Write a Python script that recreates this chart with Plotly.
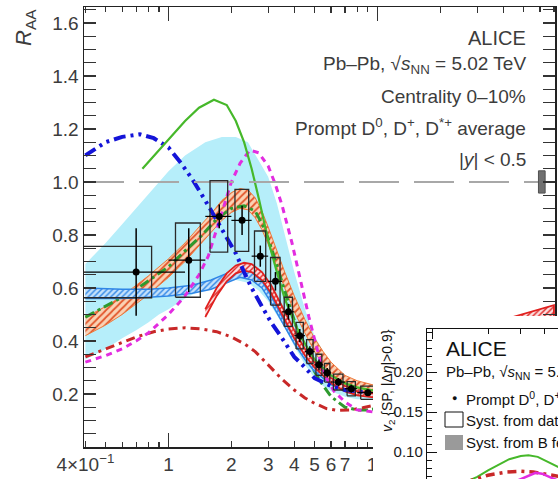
import numpy as np
import plotly.graph_objects as go

W, H = 558, 479

# ---------------- main panel: measured R_AA (0-10%) ----------------
pt = [0.7, 1.25, 1.75, 2.25, 2.75, 3.25, 3.75, 4.25, 4.75, 5.25, 5.75, 6.5, 7.5, 9.0, 11.0, 14.0, 20.0, 30.0, 43.0]
raa = [0.66, 0.705, 0.87, 0.855, 0.72, 0.625, 0.51, 0.42, 0.36, 0.31, 0.28, 0.245, 0.22, 0.205, 0.19, 0.2, 0.23, 0.28, 0.35]
raa_stat = [0.165, 0.12, 0.045, 0.055, 0.04, 0.035, 0.03, 0.025, 0.02, 0.02, 0.018, 0.015, 0.015, 0.012, 0.015, 0.02, 0.025, 0.04, 0.06]
raa_syst = [0.097, 0.14, 0.135, 0.117, 0.095, 0.09, 0.055, 0.05, 0.045, 0.04, 0.035, 0.03, 0.027, 0.025, 0.023, 0.024, 0.028, 0.035, 0.045]
bin_dlo = [0.5, 0.25, 0.25, 0.25, 0.25, 0.25, 0.25, 0.25, 0.25, 0.25, 0.25, 0.5, 0.5, 1.0, 1.0, 2.0, 4.0, 6.0, 7.0]
bin_dhi = [0.5, 0.25, 0.25, 0.25, 0.25, 0.25, 0.25, 0.25, 0.25, 0.25, 0.25, 0.5, 0.5, 1.0, 1.0, 2.0, 4.0, 6.0, 7.0]
box_dlo = [0.53, 0.17, 0.17, 0.17, 0.17, 0.17, 0.17, 0.17, 0.17, 0.17, 0.17, 0.34, 0.34, 0.68, 0.68, 1.36, 2.7, 4.0, 4.7]
box_dhi = [0.13, 0.17, 0.17, 0.17, 0.17, 0.17, 0.17, 0.17, 0.17, 0.17, 0.17, 0.34, 0.34, 0.68, 0.68, 1.36, 2.7, 4.0, 4.7]
norm_unc = 0.042
norm_pt = [59.0, 63.5]

# ---------------- model curves / bands (main panel) ----------------
cyan_pt = [0.4, 0.5, 0.6, 0.7, 0.8, 0.9, 1.0, 1.2, 1.5, 1.8, 2.1, 2.4, 2.7, 3.0, 3.3, 3.6, 4.0, 4.5, 5.0, 5.5, 6.0, 7.0, 8.0, 10.0, 12.0]
cyan_hi = [0.69, 0.77, 0.84, 0.9, 0.95, 1.0, 1.04, 1.1, 1.15, 1.17, 1.17, 1.15, 1.08, 1.02, 0.92, 0.8, 0.66, 0.52, 0.42, 0.36, 0.31, 0.26, 0.235, 0.22, 0.21]
cyan_lo = [0.33, 0.37, 0.41, 0.44, 0.47, 0.5, 0.52, 0.56, 0.6, 0.62, 0.63, 0.62, 0.59, 0.55, 0.5, 0.45, 0.38, 0.31, 0.26, 0.23, 0.21, 0.19, 0.18, 0.18, 0.18]

orange_pt = [0.4, 0.5, 0.6, 0.7, 0.8, 1.0, 1.2, 1.4, 1.6, 1.8, 2.0, 2.2, 2.4, 2.6, 2.8, 3.0, 3.3, 3.6, 4.0, 4.5, 5.0, 5.5, 6.0, 7.0, 8.0, 10.0, 15.0, 20.0, 30.0, 50.0, 70.0]
orange_hi = [0.49, 0.53, 0.57, 0.61, 0.645, 0.71, 0.77, 0.83, 0.88, 0.93, 0.96, 0.975, 0.97, 0.94, 0.89, 0.83, 0.74, 0.66, 0.57, 0.48, 0.41, 0.36, 0.32, 0.27, 0.25, 0.23, 0.25, 0.28, 0.33, 0.38, 0.4]
orange_lo = [0.42, 0.46, 0.5, 0.54, 0.575, 0.64, 0.7, 0.76, 0.81, 0.855, 0.885, 0.9, 0.895, 0.865, 0.82, 0.765, 0.68, 0.6, 0.51, 0.43, 0.36, 0.31, 0.28, 0.235, 0.21, 0.195, 0.21, 0.24, 0.28, 0.32, 0.34]

blue_pt = [0.4, 0.6, 0.8, 1.0, 1.3, 1.6, 1.9, 2.2, 2.5, 2.8, 3.1, 3.5, 4.0, 4.5, 5.0, 6.0, 7.0, 8.0, 10.0, 15.0, 20.0, 30.0, 50.0, 70.0]
blue_hi = [0.6, 0.595, 0.595, 0.6, 0.61, 0.63, 0.655, 0.67, 0.66, 0.625, 0.57, 0.49, 0.41, 0.35, 0.3, 0.25, 0.22, 0.21, 0.2, 0.22, 0.25, 0.3, 0.36, 0.4]
blue_lo = [0.56, 0.56, 0.565, 0.57, 0.58, 0.595, 0.62, 0.64, 0.63, 0.6, 0.545, 0.47, 0.39, 0.33, 0.285, 0.235, 0.21, 0.2, 0.19, 0.21, 0.24, 0.28, 0.34, 0.38]

red_pt = [1.5, 1.7, 1.9, 2.1, 2.3, 2.5, 2.8, 3.1, 3.5, 4.0, 4.5, 5.0, 6.0, 7.0, 8.0, 10.0, 12.0, 15.0, 20.0, 30.0, 40.0, 55.0, 70.0]
red_hi = [0.52, 0.6, 0.655, 0.685, 0.695, 0.69, 0.66, 0.61, 0.53, 0.44, 0.37, 0.32, 0.26, 0.23, 0.21, 0.2, 0.21, 0.24, 0.3, 0.4, 0.48, 0.51, 0.535]
red_lo = [0.49, 0.57, 0.625, 0.655, 0.665, 0.66, 0.63, 0.58, 0.5, 0.41, 0.345, 0.3, 0.24, 0.21, 0.195, 0.185, 0.195, 0.22, 0.275, 0.36, 0.44, 0.47, 0.49]

bdd_pt = [0.4, 0.5, 0.6, 0.73, 0.85, 1.0, 1.15, 1.3, 1.5, 1.7, 1.9, 2.1, 2.3, 2.5, 2.8, 3.1, 3.5, 4.0, 4.5, 5.0, 6.0, 7.0, 8.0, 10.0]
bdd_y = [1.1, 1.15, 1.17, 1.18, 1.165, 1.13, 1.07, 1.01, 0.93, 0.855, 0.79, 0.73, 0.66, 0.6, 0.53, 0.47, 0.41, 0.34, 0.3, 0.26, 0.23, 0.215, 0.21, 0.205]

gsol_pt = [0.75, 0.9, 1.05, 1.2, 1.4, 1.65, 1.9, 2.1, 2.3, 2.5, 2.7, 3.0, 3.3, 3.6, 4.0, 4.5, 5.0, 6.0, 7.0, 8.0, 10.0]
gsol_y = [1.05, 1.12, 1.18, 1.23, 1.28, 1.31, 1.29, 1.23, 1.15, 1.05, 0.94, 0.78, 0.66, 0.56, 0.47, 0.39, 0.33, 0.27, 0.24, 0.225, 0.21]

mag_pt = [0.4, 0.5, 0.6, 0.7, 0.8, 0.9, 1.0, 1.2, 1.4, 1.55, 1.7, 1.85, 2.0, 2.2, 2.45, 2.7, 3.0, 3.25, 3.5, 3.9, 4.3, 4.7, 5.1, 5.6, 6.2, 7.0, 8.0, 10.0, 12.0]
mag_y = [0.32, 0.345, 0.37, 0.4, 0.43, 0.465, 0.5, 0.57, 0.65, 0.72, 0.82, 0.92, 1.0, 1.07, 1.12, 1.11, 1.06, 0.99, 0.91, 0.77, 0.62, 0.49, 0.38, 0.27, 0.21, 0.17, 0.14, 0.13, 0.13]

rdd_pt = [0.4, 0.5, 0.6, 0.7, 0.85, 1.0, 1.2, 1.45, 1.7, 2.0, 2.3, 2.6, 3.0, 3.5, 4.0, 4.5, 5.0, 5.7, 6.5, 7.5, 8.5, 10.0, 12.0]
rdd_y = [0.34, 0.37, 0.395, 0.415, 0.435, 0.445, 0.45, 0.445, 0.435, 0.415, 0.39, 0.36, 0.31, 0.255, 0.215, 0.185, 0.165, 0.145, 0.138, 0.14, 0.148, 0.16, 0.17]

gdd_pt = [0.4, 0.5, 0.6, 0.7, 0.85, 1.0, 1.2, 1.45, 1.7, 2.0, 2.3, 2.6, 2.9, 3.2, 3.5, 3.9, 4.3, 4.8, 5.3, 6.0, 7.0, 8.0, 9.0, 10.0]
gdd_y = [0.49, 0.53, 0.565, 0.595, 0.64, 0.68, 0.74, 0.8, 0.86, 0.9, 0.91, 0.89, 0.82, 0.72, 0.62, 0.5, 0.4, 0.31, 0.25, 0.19, 0.15, 0.14, 0.14, 0.145]

# ---------------- inset: v2 models (only lower part visible) ----------------
v2g_pt = [1.5, 1.75, 2.0, 2.3, 2.6, 3.0, 3.3, 3.7, 4.2, 4.8, 5.5]
v2g_y = [0.062, 0.069, 0.077, 0.085, 0.091, 0.095, 0.096, 0.094, 0.088, 0.081, 0.074]
v2r_pt = [1.5, 1.75, 2.0, 2.5, 3.0, 3.5, 4.0, 5.0]
v2r_y = [0.062, 0.067, 0.071, 0.075, 0.076, 0.075, 0.073, 0.069]
v2m_pt = [2.6, 3.0, 3.3, 3.6, 3.9, 4.2, 4.6, 5.0]
v2m_y = [0.06, 0.066, 0.071, 0.074, 0.073, 0.07, 0.066, 0.062]

# tick labels
x_tickvals = [0.4, 1, 2, 3, 4, 5, 6, 7, 10, 20, 30, 40]
x_ticktext = ["4×10<sup>−1</sup>", "1", "2", "3", "4", "5", "6", "7", "10", "20", "30", "40"]
x_minor = [0.5, 0.6, 0.7, 0.8, 0.9, 8, 9, 50, 60, 70]
y_tickvals = [0.2, 0.4, 0.6, 0.8, 1.0, 1.2, 1.4, 1.6]
y_ticktext = ["0.2", "0.4", "0.6", "0.8", "1.0", "1.2", "1.4", "1.6"]

# ---------------- layout geometry (pixels) ----------------
def fx(p):
    return p / W

def fy(p):
    return 1 - p / H

XR = [np.log10(0.394), 1.85]
YR = [0.0, 1.66]
IXR = [-0.027, 0.677]
IYR = [0.0663, 0.2538]

FONT = "Liberation Sans, Arial, sans-serif"
GRAY = "#3c3c3c"

fig = go.Figure()


def band(xs, lo, hi, fill, line, pattern=None, lw=1.0):
    xx = list(xs) + list(xs)[::-1]
    yy = list(hi) + list(lo)[::-1]
    kw = {}
    if pattern is not None:
        kw["fillpattern"] = pattern
    return go.Scatter(x=xx, y=yy, mode="lines", fill="toself", fillcolor=fill,
                      line=dict(color=line, width=lw), hoverinfo="skip",
                      showlegend=False, xaxis="x", yaxis="y", **kw)


fig.add_trace(band(cyan_pt, cyan_lo, cyan_hi, "#b6eefa", "rgba(0,0,0,0)", lw=0))
fig.add_trace(band(orange_pt, orange_lo, orange_hi, "#f8c39c", "#ee7a3a",
                   dict(shape="/", fgcolor="#e2552a", bgcolor="#fad2b4", size=5, solidity=0.35)))
fig.add_trace(go.Scatter(x=gdd_pt, y=gdd_y, mode="lines",
                         line=dict(color="#2e9a2e", width=3, dash="10px,4px,3px,4px"),
                         showlegend=False, hoverinfo="skip"))
fig.add_trace(band(blue_pt, blue_lo, blue_hi, "#a9d2f6", "#2f86e6",
                   dict(shape="/", fgcolor="#2f86e6", bgcolor="#c6e2fb", size=4, solidity=0.35), lw=1.5))
fig.add_trace(band(red_pt, red_lo, red_hi, "#f7c0c0", "#e0201e",
                   dict(shape="/", fgcolor="#e0201e", bgcolor="#fbdede", size=4, solidity=0.35), lw=1.8))
fig.add_trace(go.Scatter(x=rdd_pt, y=rdd_y, mode="lines",
                         line=dict(color="#c82828", width=3, dash="9px,5px,3px,5px"),
                         showlegend=False, hoverinfo="skip"))
fig.add_trace(go.Scatter(x=mag_pt, y=mag_y, mode="lines",
                         line=dict(color="#e22ce0", width=3, dash="6px,5px"),
                         showlegend=False, hoverinfo="skip"))
fig.add_trace(go.Scatter(x=bdd_pt, y=bdd_y, mode="lines",
                         line=dict(color="#1414d8", width=4, dash="12px,5px,3px,5px,3px,5px"),
                         showlegend=False, hoverinfo="skip"))
fig.add_trace(go.Scatter(x=gsol_pt, y=gsol_y, mode="lines",
                         line=dict(color="#46b82a", width=2.2),
                         showlegend=False, hoverinfo="skip"))

# unity line
fig.add_trace(go.Scatter(x=[10 ** XR[0], 10 ** XR[1]], y=[1.0, 1.0], mode="lines",
                         line=dict(color="#a8a8a8", width=2, dash="40px,15px"),
                         showlegend=False, hoverinfo="skip"))
# normalisation uncertainty box
fig.add_trace(go.Scatter(x=[norm_pt[0], norm_pt[1], norm_pt[1], norm_pt[0], norm_pt[0]],
                         y=[1 - norm_unc, 1 - norm_unc, 1 + norm_unc, 1 + norm_unc, 1 - norm_unc],
                         mode="lines", fill="toself", fillcolor="#707070",
                         line=dict(color="#505050", width=1), showlegend=False, hoverinfo="skip"))

# systematic boxes
bx, by = [], []
for p, r, s, dl, dh in zip(pt, raa, raa_syst, box_dlo, box_dhi):
    x0, x1 = p - dl, p + dh
    bx += [x0, x1, x1, x0, x0, None]
    by += [r - s, r - s, r + s, r + s, r - s, None]
fig.add_trace(go.Scatter(x=bx, y=by, mode="lines", line=dict(color="#2a2a2a", width=1.3),
                         showlegend=False, hoverinfo="skip"))
# data points
fig.add_trace(go.Scatter(x=pt, y=raa, mode="markers",
                         marker=dict(color="black", size=7, symbol="circle"),
                         error_y=dict(type="data", array=raa_stat, color="black", thickness=1.5, width=0),
                         error_x=dict(type="data", array=bin_dhi, arrayminus=bin_dlo, symmetric=False,
                                      color="black", thickness=1.2, width=0),
                         showlegend=False, hoverinfo="skip"))

# overlay axis for the long decade ticks
fig.add_trace(go.Scatter(x=[], y=[], xaxis="x4", yaxis="y", showlegend=False))

# white cover subplot (paper of the v2 figure)
fig.add_trace(go.Scatter(x=[], y=[], xaxis="x2", yaxis="y2", showlegend=False))

# inset v2 curves
fig.add_trace(go.Scatter(x=v2g_pt, y=v2g_y, mode="lines", line=dict(color="#46b82a", width=2),
                         xaxis="x3", yaxis="y3", showlegend=False, hoverinfo="skip"))
fig.add_trace(go.Scatter(x=v2r_pt, y=v2r_y, mode="lines",
                         line=dict(color="#c82828", width=3.5, dash="9px,5px,3px,5px"),
                         xaxis="x3", yaxis="y3", showlegend=False, hoverinfo="skip"))
fig.add_trace(go.Scatter(x=v2m_pt, y=v2m_y, mode="lines", line=dict(color="#e22ce0", width=2.5),
                         xaxis="x3", yaxis="y3", showlegend=False, hoverinfo="skip"))

axis_common = dict(showgrid=False, zeroline=False, linecolor="#222", linewidth=1.5,
                   tickcolor="#333", tickwidth=1.2, automargin=False)

fig.update_layout(
    template="none",
    width=W, height=H,
    margin=dict(l=0, r=0, t=0, b=0, pad=0),
    paper_bgcolor="white", plot_bgcolor="white",
    showlegend=False,
    font=dict(family=FONT, color=GRAY, size=19),
    xaxis=dict(type="log", range=XR, domain=[fx(84), fx(555)], anchor="y",
               showline=True, mirror="allticks", ticks="inside", ticklen=6,
               tickmode="array", tickvals=x_tickvals, ticktext=x_ticktext,
               tickfont=dict(size=19, color=GRAY), ticklabelstandoff=0,
               minor=dict(tickmode="array", tickvals=x_minor, ticks="inside", ticklen=5,
                          tickcolor="#333", tickwidth=1.2),
               **axis_common),
    xaxis4=dict(type="log", range=XR, overlaying="x", anchor="y", showline=False,
                mirror="allticks", ticks="inside", ticklen=14, tickmode="array",
                tickvals=[1, 10], showticklabels=False, showgrid=False, zeroline=False,
                tickcolor="#333", tickwidth=1.4, automargin=False),
    yaxis=dict(range=YR, domain=[fy(447), fy(7)], anchor="x",
               showline=True, mirror="allticks", ticks="inside", ticklen=12,
               tickmode="array", tickvals=y_tickvals, ticktext=y_ticktext,
               tickfont=dict(size=19, color=GRAY),
               minor=dict(tickmode="array", tickvals=list(np.round(np.arange(0.05, 1.66, 0.05), 2)),
                          ticks="inside", ticklen=6, tickcolor="#333", tickwidth=1.2),
               **axis_common),
    xaxis2=dict(domain=[fx(373), 1.0], anchor="y2", range=[0, 1], showline=False,
                showticklabels=False, ticks="", showgrid=False, zeroline=False, fixedrange=True,
                automargin=False),
    yaxis2=dict(domain=[0.0, fy(316)], anchor="x2", range=[0, 1], showline=False,
                showticklabels=False, ticks="", showgrid=False, zeroline=False, fixedrange=True,
                automargin=False),
    xaxis3=dict(type="log", range=IXR, domain=[fx(427), 1.0], anchor="y3", side="top",
                showline=True, linecolor="#111", linewidth=1.2, ticks="inside", ticklen=10,
                tickmode="array", tickvals=[1], showticklabels=False, showgrid=False,
                zeroline=False, tickcolor="#111", automargin=False,
                minor=dict(tickmode="array", tickvals=[2, 3, 4], ticks="inside", ticklen=5,
                           tickcolor="#111")),
    yaxis3=dict(range=IYR, domain=[0.0, fy(329)], anchor="x3",
                showline=True, linecolor="#111", linewidth=1.2, ticks="inside", ticklen=10,
                tickmode="array", tickvals=[0.10, 0.15, 0.20], ticktext=["0.10", "0.15", "0.20"],
                tickfont=dict(size=15, color="#1a1a1a"), showgrid=False, zeroline=False,
                tickcolor="#111", automargin=False,
                minor=dict(tickmode="array", tickvals=list(np.round(np.arange(0.07, 0.26, 0.01), 2)),
                           ticks="inside", ticklen=5, tickcolor="#111")),
)

ann = []
# y title of main panel
ann.append(dict(text="<i>R</i><sub>AA</sub>", x=fx(25), y=fy(28), xref="paper", yref="paper",
                textangle=-90, showarrow=False, font=dict(size=22, color=GRAY),
                xanchor="center", yanchor="middle"))
main_lines = [
    ("ALICE", 37.5, 20),
    ("Pb–Pb, √<i>s</i><sub>NN</sub> = 5.02 TeV", 65, 19),
    ("Centrality 0–10%", 97, 19),
    ("Prompt D<sup>0</sup>, D<sup>+</sup>, D<sup>*+</sup> average", 127, 19),
    ("|<i>y</i>| < 0.5", 159, 19),
]
for t, yy, sz in main_lines:
    ann.append(dict(text=t, x=fx(528), y=fy(yy), xref="paper", yref="paper", showarrow=False,
                    xanchor="right", yanchor="middle", font=dict(size=sz, color=GRAY)))

INK = "#111"
inset_lines = [
    ("ALICE", 444, 348, 21),
    ("Pb–Pb, √<i>s</i><sub>NN</sub> = 5.02 TeV", 444, 372, 15),
    ("Prompt D<sup>0</sup>, D<sup>+</sup>, D<sup>*+</sup> average", 464, 398, 15),
    ("Syst. from data", 464, 420, 15),
    ("Syst. from B feed-down", 464, 442, 15),
]
for t, xx, yy, sz in inset_lines:
    ann.append(dict(text=t, x=fx(xx), y=fy(yy), xref="paper", yref="paper", showarrow=False,
                    xanchor="left", yanchor="middle", font=dict(size=sz, color=INK)))
ann.append(dict(text="●", x=fx(454), y=fy(398), xref="paper", yref="paper", showarrow=False,
                xanchor="center", yanchor="middle", font=dict(size=9, color=INK)))
ann.append(dict(text="<i>v</i><sub>2</sub> {SP, |Δ<i>η</i>|>0.9}", x=fx(388), y=fy(381),
                xref="paper", yref="paper", textangle=-90, showarrow=False,
                xanchor="center", yanchor="middle", font=dict(size=14, color=INK)))
fig.update_layout(annotations=ann)

fig.update_layout(shapes=[
    dict(type="rect", xref="paper", yref="paper", x0=fx(445), x1=fx(463), y0=fy(427), y1=fy(412),
         line=dict(color="#111", width=1), fillcolor="rgba(0,0,0,0)", layer="above"),
    dict(type="rect", xref="paper", yref="paper", x0=fx(445), x1=fx(463), y0=fy(450), y1=fy(435),
         line=dict(color="#999", width=0), fillcolor="#9a9a9a", layer="above"),
])

fig.write_html("out.html", config={"displayModeBar": False, "staticPlot": True},
               post_script="document.body.style.margin='0px';document.body.style.padding='0px';")
